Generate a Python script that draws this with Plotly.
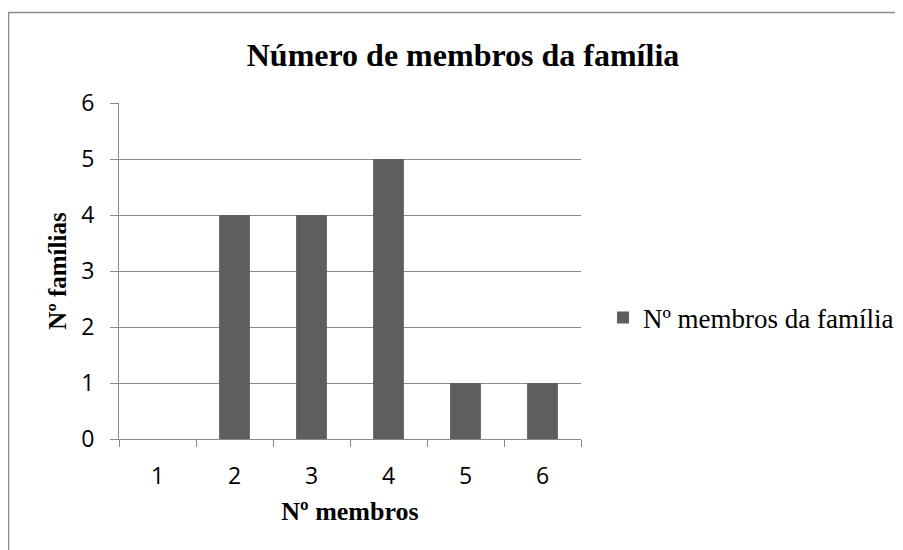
import plotly.graph_objects as go

categories = ["1", "2", "3", "4", "5", "6"]
values = [0, 4, 4, 5, 1, 1]
series_name = "Nº membros da família"
title_text = "Número de membros da família"
x_title = "Nº membros"
y_title = "Nº famílias"

OFF = 8  # page body margin
W, H = 903 - OFF, 550 - OFF
# plot area in reference pixel coordinates
L, R, T, B = 119, 581, 103, 439
pw, ph = R - L, B - T

def px_x(px):
    return (px - L) / pw

def px_y(py):
    return (B - py) / ph

serif = "Liberation Serif, Times New Roman, serif"
sans = "Open Sans, Liberation Sans, sans-serif"

fig = go.Figure()
fig.add_trace(go.Bar(
    x=categories, y=values, name=series_name,
    marker=dict(color="#5e5e5e", line=dict(width=0)),
    showlegend=True,
))

fig.update_layout(
    width=W, height=H,
    margin=dict(l=L - OFF, r=903 - R, t=T - OFF, b=550 - B, autoexpand=False),
    paper_bgcolor="white", plot_bgcolor="white",
    bargap=0.6,
    title=dict(text="<b>" + title_text + "</b>", x=px_x(463), xref="paper", xanchor="center",
               y=1 - (55 - OFF) / H, yref="container", yanchor="middle",
               font=dict(family=serif, size=32, color="black")),
    showlegend=True,
    legend=dict(x=px_x(603), y=px_y(318), xanchor="left", yanchor="middle",
                font=dict(family=serif, size=27, color="black"),
                itemwidth=30, bgcolor="rgba(0,0,0,0)"),
    xaxis=dict(
        type="category",
        showgrid=False, showline=True, linecolor="#8a8a8a", linewidth=1,
        ticks="outside", ticklen=7, tickcolor="#8a8a8a", tickson="boundaries",
        tickfont=dict(family=sans, size=23, color="black"),
        ticklabelstandoff=16,
        title=dict(text="<b>" + x_title + "</b>", font=dict(family=serif, size=26, color="black"),
                   standoff=12),
    ),
    yaxis=dict(
        range=[0, 6], dtick=1, tick0=0,
        showgrid=True, gridcolor="#8a8a8a", gridwidth=1,
        showline=True, linecolor="#8a8a8a", linewidth=1,
        ticks="outside", ticklen=8, tickcolor="#8a8a8a",
        tickfont=dict(family=sans, size=23, color="black"),
        ticklabelstandoff=11,
        zeroline=False,
        title=dict(text="<b>" + y_title + "</b>", font=dict(family=serif, size=25, color="black"),
                   standoff=7),
    ),
    shapes=[dict(type="rect", xref="paper", yref="paper",
                 x0=px_x(8.5), x1=px_x(910), y0=px_y(560), y1=px_y(12.5),
                 line=dict(color="#8a8a8a", width=1.5), fillcolor="rgba(0,0,0,0)", layer="below")],
)

fig.write_html("out.html")
